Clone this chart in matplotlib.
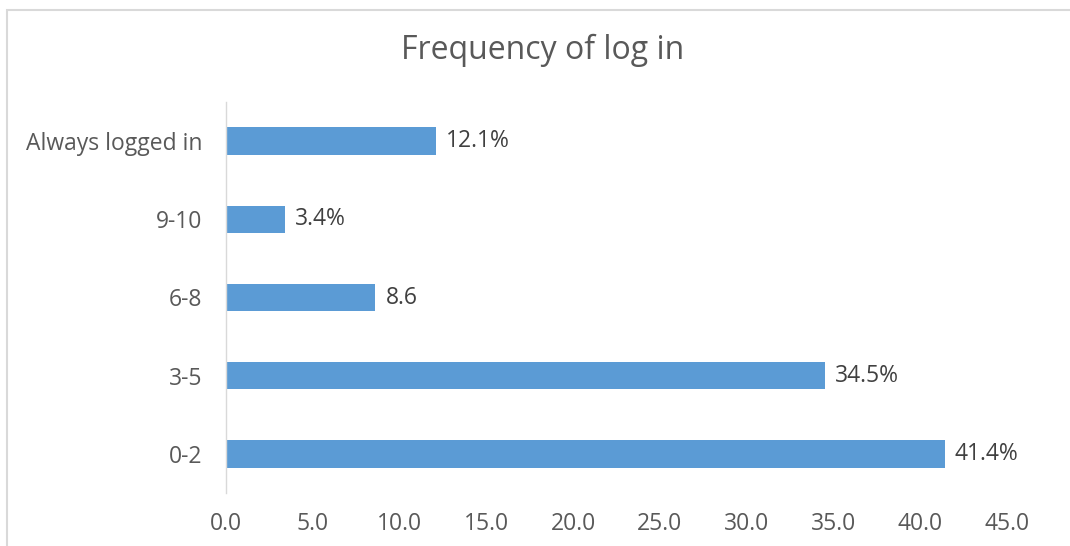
import matplotlib
matplotlib.use("Agg")
import matplotlib.pyplot as plt
from matplotlib.patches import Rectangle

categories = ["0-2", "3-5", "6-8", "9-10", "Always logged in"]
values = [41.4, 34.5, 8.6, 3.4, 12.1]
labels = ["41.4%", "34.5%", "8.6", "3.4%", "12.1%"]
xticks = [0, 5, 10, 15, 20, 25, 30, 35, 40, 45]

plt.rcParams['font.family'] = ['Open Sans', 'DejaVu Sans']
text_color = "#595959"
bar_color = "#5B9BD5"

W, H = 1070, 546
fig = plt.figure(figsize=(W / 100, H / 100), dpi=100)
fig.patch.set_facecolor("white")

# chart frame (only top/left edges visible in the reference)
fig.patches.append(Rectangle((7 / W, -0.1), 1.2, (H - 10) / H + 0.1,
                             transform=fig.transFigure, fill=False,
                             edgecolor="#D9D9D9", linewidth=1.5))

ax = fig.add_axes([226 / W, 1 - 493 / H, (1007 - 226) / W, (493 - 102) / H])
y = list(range(len(categories)))
ax.barh(y, values, height=0.35, color=bar_color)
for yi, v, lab in zip(y, values, labels):
    ax.text(v + 0.6, yi, lab, va="center", ha="left", fontsize=16.5, color="#404040")

ax.set_xlim(0, 45)
ax.set_ylim(-0.5, len(categories) - 0.5)
ax.set_xticks(xticks)
ax.set_xticklabels([f"{t:.1f}" for t in xticks])
ax.set_yticks(y)
ax.set_yticklabels(categories)
ax.tick_params(axis="both", length=0, labelsize=16.5, colors=text_color)
ax.tick_params(axis="x", pad=14)
ax.tick_params(axis="y", pad=17)
for s in ["top", "right", "bottom"]:
    ax.spines[s].set_visible(False)
ax.spines["left"].set_color("#D9D9D9")
ax.spines["left"].set_linewidth(1)

fig.text(543 / W, 1 - 50 / H, "Frequency of log in", ha="center", va="center",
         fontsize=23, color=text_color)

fig.savefig("out.png", dpi=100)
